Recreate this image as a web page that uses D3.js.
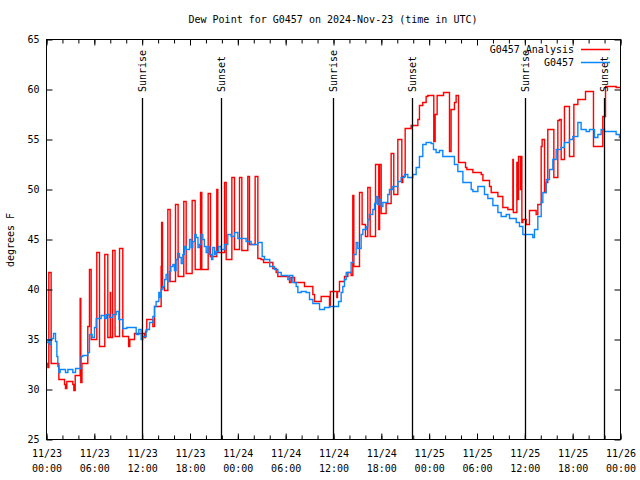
<!DOCTYPE html>
<html>
<head>
<meta charset="utf-8">
<script src="https://cdn.jsdelivr.net/npm/d3@7"></script>
<style>
  html, body { margin: 0; padding: 0; background: #fff; }
  svg { display: block; }
  text { font-family: "DejaVu Sans Mono", "Liberation Mono", monospace; font-size: 10px; fill: #000; }
</style>
</head>
<body>
<svg id="chart" width="640" height="480"></svg>
<script>
// ---------------- DATA ----------------
const chartTitle = "Dew Point for G0457 on 2024-Nov-23 (time in UTC)";
const yLabel = "degrees F";
const yTicks = [25, 30, 35, 40, 45, 50, 55, 60, 65];
// hours since 2024-11-23 00:00 UTC
const xLabelHours = [0, 6, 12, 18, 24, 30, 36, 42, 48, 54, 60, 66, 72];
const xLabelDates = ["11/23","11/23","11/23","11/23","11/24","11/24","11/24","11/24","11/25","11/25","11/25","11/25","11/26"];
const xLabelTimes = ["00:00","06:00","12:00","18:00","00:00","06:00","12:00","18:00","00:00","06:00","12:00","18:00","00:00"];
const xMinorHours = d3.range(0, 73, 2);

const eventHours  = [11.95, 21.9, 35.97, 45.9, 60.0, 69.88];
const eventLabels = ["Sunrise", "Sunset", "Sunrise", "Sunset", "Sunrise", "Sunset"];

const seriesNames = ["G0457 Analysis", "G0457"];

// G0457 Analysis (step values: hour, deg F)
const analysisHours = [0.0,0.17,0.29,0.58,1.55,2.26,2.38,2.55,3.3,3.43,3.6,4.22,4.3,4.45,5.18,5.39,5.6,6.31,6.65,7.31,7.69,8.0,8.05,8.3,8.6,9.16,9.57,10.3,10.45,11.04,12.29,12.42,12.58,13.34,13.55,14.38,14.44,14.55,14.8,15.22,15.51,16.18,16.51,17.22,17.52,18.27,18.65,19.32,19.48,20.28,20.57,21.36,21.49,22.33,22.54,23.25,23.58,24.21,24.5,25.25,25.46,26.17,26.51,26.9,27.22,28.39,28.81,29.02,30.48,30.69,31.11,32.36,33.41,33.62,34.45,35.5,35.6,36.42,36.5,36.75,37.38,37.8,38.21,38.42,38.55,39.26,39.59,40.01,40.3,40.6,41.27,41.68,41.78,41.98,42.6,43.23,43.56,44.07,44.57,44.69,44.99,45.74,46.58,46.78,47.2,47.62,47.83,48.58,48.75,49.0,49.8,50.55,50.75,51.17,51.38,51.68,52.56,52.73,53.48,54.53,54.74,55.57,55.78,56.62,57.24,57.87,58.5,58.56,59.0,59.05,59.21,59.45,59.5,59.63,59.75,60.17,60.58,61.42,61.63,62.05,62.17,62.47,62.67,62.88,63.64,64.14,64.35,64.56,64.97,65.6,66.15,66.65,67.61,68.61,69.78,70.12,71.45,72.0];
const analysisDew   = [32.6,32.2,41.7,32.6,31.0,30.5,30.1,30.8,30.5,29.9,31.4,39.1,30.7,32.6,36.3,42.0,35.0,43.7,34.3,43.5,35.2,39.7,35.2,43.9,35.3,44.1,35.3,34.3,35.0,35.6,35.2,35.8,37.0,36.3,38.3,42.3,46.7,40.2,39.9,48.0,40.8,48.5,41.3,48.8,41.6,48.9,42.0,49.7,42.0,49.6,43.3,50.0,43.7,50.7,43.0,51.2,44.0,51.2,43.9,51.3,44.5,51.3,43.1,43.0,42.7,42.1,41.7,41.3,40.7,41.2,40.7,40.3,39.5,38.8,39.3,38.3,39.8,39.2,39.8,40.8,41.3,41.7,41.4,49.4,42.3,49.7,46.5,45.3,50.2,45.3,52.5,46.0,52.5,47.6,48.6,53.6,49.5,55.0,50.7,51.3,56.1,56.4,57.0,58.4,58.7,59.3,59.4,54.8,57.5,59.4,59.7,53.8,58.0,58.7,59.4,52.7,52.2,52.0,51.7,51.5,50.9,50.3,49.7,49.3,48.2,48.0,53.0,47.7,52.7,49.0,53.3,50.0,53.3,46.7,47.0,46.5,47.9,47.5,48.5,54.3,55.0,49.7,50.7,56.0,51.2,56.9,57.0,53.0,58.3,53.3,58.5,59.0,59.8,54.3,57.3,60.3,60.2,60.2];

// G0457 observations (step values: hour, deg F)
const obsHours = [0,0.21,0.38,0.59,0.88,1.13,1.3,1.42,1.55,1.71,2.38,2.68,3.3,3.64,4.35,4.56,5.18,5.39,5.73,6.02,6.23,6.86,7.28,7.5,7.9,8.32,8.74,9.07,9.57,10.08,11.25,11.58,11.87,12.08,12.5,12.92,13.34,13.55,13.75,14.09,14.25,14.38,14.59,14.8,15.0,15.2,15.43,15.6,15.85,16.05,16.26,16.45,16.68,16.9,17.1,17.3,17.52,17.94,18.15,18.35,18.6,18.77,19.0,19.19,19.4,19.61,19.8,20.03,20.25,20.45,20.7,20.86,21.1,21.28,21.6,21.91,22.33,22.74,23.16,23.58,24.0,25.04,25.67,26.51,27.05,27.35,28.0,28.6,29.02,29.44,30.27,30.48,30.9,31.32,31.53,31.95,32.57,32.99,33.41,34.25,34.87,35.5,36.63,36.96,37.17,37.38,37.59,38.21,38.51,38.84,39.05,39.47,39.68,40.1,40.3,40.51,40.93,41.15,41.35,41.55,41.77,42.0,42.19,42.81,43.02,43.44,44.07,44.48,44.9,45.32,45.95,46.37,46.78,47.2,47.62,48.25,48.54,48.87,49.29,49.71,51.17,51.6,52.23,53.27,53.48,54.11,54.94,55.36,55.99,56.62,57.03,57.66,58.08,58.92,59.33,59.75,61.0,61.21,61.63,62.05,62.26,62.67,63.09,63.51,63.93,64.56,64.97,65.6,66.02,66.65,67.06,67.69,68.11,68.74,69.16,69.57,69.99,71.45,71.87,72.0];
const obsDew   = [34.7,35.0,34.5,35.1,35.6,34.8,33.3,32.3,31.7,32.0,31.7,32.0,31.7,32.1,33.3,33.4,33.7,35.5,35.2,36.2,37.1,37.4,37.1,37.5,37.2,37.5,37.8,37.0,36.1,36.2,35.5,36.0,35.0,35.3,36.0,36.7,37.3,38.3,38.8,39.7,39.2,40.0,40.3,41.0,41.5,40.8,41.8,42.3,42.5,41.9,43.0,43.6,43.2,42.6,43.5,44.3,44.0,45.0,44.2,44.8,45.5,45.2,44.2,44.5,45.5,45.0,44.3,43.7,44.3,43.5,43.0,44.2,43.5,43.8,44.3,44.0,44.5,45.5,45.3,45.7,45.1,44.8,44.5,44.7,43.3,43.0,42.3,42.0,41.7,41.4,41.0,41.4,40.7,40.3,39.7,39.8,39.7,39.0,38.6,38.0,38.2,38.3,38.8,39.7,40.3,41.0,41.7,42.7,43.5,44.7,44.1,45.5,46.0,46.3,47.0,47.5,48.0,48.6,49.3,48.5,49.0,48.3,48.7,49.5,50.0,50.3,50.8,51.2,51.5,51.2,51.5,52.2,53.3,54.5,54.7,54.6,54.0,53.7,53.9,53.3,52.5,51.8,50.7,50.0,49.8,50.3,49.5,49.1,48.4,47.7,47.3,47.5,47.1,46.7,46.3,45.5,45.2,46.0,47.3,48.7,49.7,51.0,52.0,53.0,54.0,54.2,54.7,55.0,55.3,56.7,56.0,55.8,56.0,55.2,55.5,56.0,55.8,55.5,55.2,55.2];

// ---------------- DRAW ----------------
const svg = d3.select("#chart");
const plotLeft = 46.5, plotRight = 620.5, plotTop = 39.5, plotBottom = 439.5;
const x = d3.scaleLinear().domain([0, 72]).range([plotLeft, plotRight]);
const y = d3.scaleLinear().domain([25, 65]).range([plotBottom, plotTop]);

const RED = "#ff0000", BLUE = "#0a87ff";

// title
svg.append("text").attr("x", 333).attr("y", 23).attr("text-anchor", "middle").text(chartTitle);

// y label
svg.append("text").attr("transform", "translate(14,240) rotate(-90)").attr("text-anchor", "middle").text(yLabel);

// data lines
const analysis = analysisHours.map((h, i) => [h, analysisDew[i]]);
const obs = obsHours.map((h, i) => [h, obsDew[i]]);
const line = d3.line().x(d => x(d[0])).y(d => y(d[1])).curve(d3.curveStepAfter);

const plot = svg.append("g");
plot.append("path").datum(analysis).attr("d", line)
  .attr("fill", "none").attr("stroke", RED).attr("stroke-width", 1.4);
plot.append("path").datum(obs).attr("d", line)
  .attr("fill", "none").attr("stroke", BLUE).attr("stroke-width", 1.4);

// event lines + labels
const ev = svg.append("g");
eventHours.forEach((h, i) => {
  const xx = Math.round(x(h)) + 0.5;
  ev.append("line").attr("x1", xx).attr("x2", xx).attr("y1", 98).attr("y2", plotBottom)
    .attr("stroke", "#000").attr("stroke-width", 1.3);
  ev.append("text").attr("transform", `translate(${xx},92) rotate(-90)`)
    .attr("dy", "0.35em").attr("text-anchor", "start").text(eventLabels[i]);
});

// axes
function styleAxis(g) {
  g.select(".domain").remove();
  g.selectAll(".tick line").attr("stroke", "#000").attr("stroke-width", 1);
  g.selectAll("text").style("font-family", '"DejaVu Sans Mono", monospace').style("font-size", "10px");
}
svg.append("g").attr("transform", `translate(0,${plotBottom})`)
  .call(d3.axisBottom(x).tickValues(xMinorHours).tickSizeInner(-4).tickSizeOuter(0).tickFormat(""))
  .call(styleAxis);
svg.append("g").attr("transform", `translate(0,${plotTop})`)
  .call(d3.axisTop(x).tickValues(xMinorHours).tickSizeInner(-4).tickSizeOuter(0).tickFormat(""))
  .call(styleAxis);
const xg = svg.append("g").attr("transform", `translate(0,${plotBottom})`)
  .call(d3.axisBottom(x).tickValues(xLabelHours).tickSizeInner(-6).tickSizeOuter(0).tickPadding(7).tickFormat(h => h))
  .call(styleAxis);
xg.selectAll(".tick text").each(function(h) {
  const i = xLabelHours.indexOf(h);
  const t = d3.select(this).text(null).attr("dy", null).attr("y", 0);
  t.append("tspan").attr("x", 0).attr("y", 17).text(xLabelDates[i]);
  t.append("tspan").attr("x", 0).attr("y", 32).text(xLabelTimes[i]);
});
svg.append("g").attr("transform", `translate(0,${plotTop})`)
  .call(d3.axisTop(x).tickValues(xLabelHours).tickSizeInner(-6).tickSizeOuter(0).tickFormat(""))
  .call(styleAxis);
svg.append("g").attr("transform", `translate(${plotLeft},0)`)
  .call(d3.axisLeft(y).tickValues(yTicks).tickSizeInner(-6).tickSizeOuter(0).tickPadding(7).tickFormat(d3.format("d")))
  .call(styleAxis);
svg.append("g").attr("transform", `translate(${plotRight},0)`)
  .call(d3.axisRight(y).tickValues(yTicks).tickSizeInner(-6).tickSizeOuter(0).tickFormat(""))
  .call(styleAxis);

// frame
svg.append("rect").attr("x", plotLeft).attr("y", plotTop).attr("width", plotRight - plotLeft).attr("height", plotBottom - plotTop)
  .attr("fill", "none").attr("stroke", "#000").attr("stroke-width", 1);

// legend
const legColors = [RED, BLUE];
const legend = svg.append("g");
seriesNames.forEach((name, i) => {
  const ly = 49.5 + i * 13;
  legend.append("text").attr("x", 574).attr("y", ly).attr("dy", "0.35em").attr("text-anchor", "end").text(name);
  legend.append("line").attr("x1", 581).attr("x2", 610).attr("y1", ly).attr("y2", ly)
    .attr("stroke", legColors[i]).attr("stroke-width", 1.5);
});
</script>
</body>
</html>
